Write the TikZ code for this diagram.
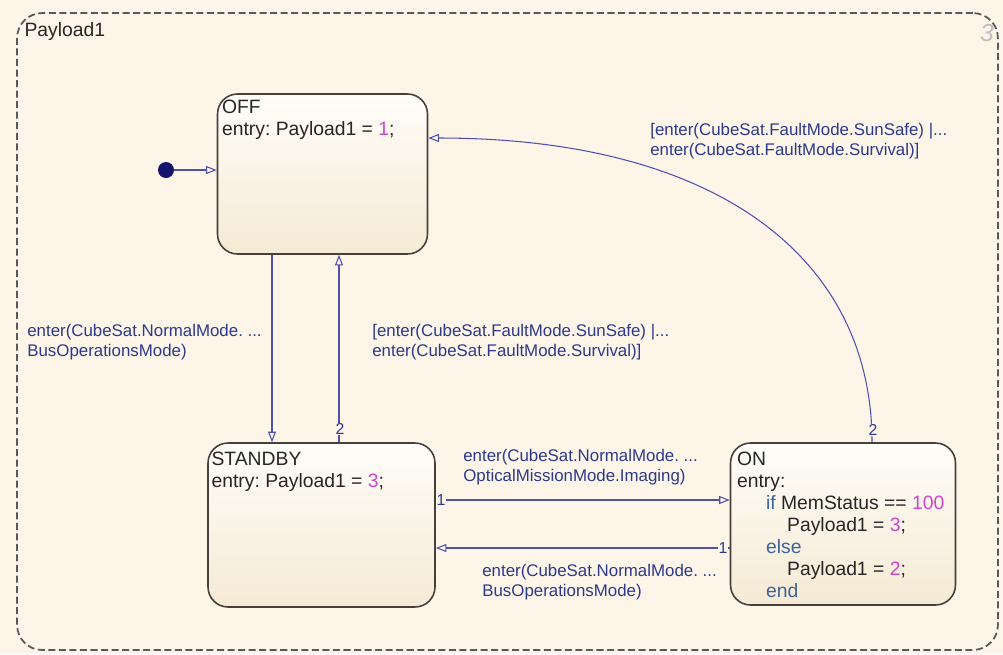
\documentclass[tikz,border=0pt]{standalone}
\usepackage{fontspec}
\setmainfont{Liberation Sans}
\usetikzlibrary{positioning,calc,arrows.meta}
\frenchspacing

\definecolor{chartbg}{RGB}{252,245,232}
\definecolor{stateedge}{RGB}{70,64,58}
\definecolor{statetop}{RGB}{255,253,249}
\definecolor{statebot}{RGB}{245,234,212}
\definecolor{transblue}{RGB}{80,80,175}
\definecolor{guardblue}{RGB}{45,58,140}
\definecolor{numpink}{RGB}{205,70,200}
\definecolor{kwblue}{RGB}{60,100,150}
\definecolor{inkdot}{RGB}{20,20,110}

\newcommand{\nm}[1]{\textcolor{numpink}{#1}}
\newcommand{\kw}[1]{\textcolor{kwblue}{#1}}

\begin{document}
\begin{tikzpicture}[
            x=0.02cm, y=-0.02cm,
            chart frame/.style={draw=black!65,line width=1pt,dash pattern=on 4pt off 2pt,rounded corners=0.5cm,inner sep=0pt},
            state node/.style={draw=stateedge,line width=0.9pt,rounded corners=0.4cm,top color=statetop,bottom color=statebot,inner sep=0pt},
            state text/.style={anchor=north west,inner sep=0pt,align=left,text=black!85,font=\fontsize{11}{12.6}\selectfont},
            guard/.style={anchor=north west,inner sep=0pt,align=left,text=guardblue,font=\fontsize{9.6}{11.4}\selectfont},
            port/.style={inner sep=0.5pt,fill=chartbg,text=guardblue,font=\fontsize{9}{10}\selectfont},
            trans/.style={draw=transblue,line width=0.6pt,-{Triangle[open,length=6pt,width=4.5pt]}},
        ]
            \fill[chartbg] (0,0) rectangle (1003,654);
            \useasboundingbox (0,0) rectangle (1003,654);

            \node[chart frame, minimum width=19.62cm, minimum height=12.74cm] (payload) at (507.5,331.5) {};
            \node[state text, anchor=north west] (payloadtxt) at ($(payload.north west)+(8,10)$) {Payload1};
            \node[text=black!25, font=\fontsize{14}{14}\selectfont\itshape] (chartnum) at (987,33) {3};

            % states
            \node[state node, minimum width=4.2cm, minimum height=3.2cm] (off) at (322.5,174) {};
            \node[state node, minimum width=4.54cm, minimum height=3.28cm] (standby) at (321.5,525) {};
            \node[state node, minimum width=4.5cm, minimum height=3.24cm] (on) at (843,524) {};

            \node[state text] (offtxt) at ($(off.north west)+(5,6)$) {OFF\\entry: Payload1 = \nm{1};};
            \node[state text] (standbytxt) at ($(standby.north west)+(4,9)$) {STANDBY\\entry: Payload1 = \nm{3};};
            \node[state text] (ontxt) at ($(on.north west)+(7,9)$) {ON\\entry:\\
                \hspace*{16.5pt}\kw{if} MemStatus == \nm{100}\\
                \hspace*{28.5pt}Payload1 = \nm{3};\\
                \hspace*{16.5pt}\kw{else}\\
                \hspace*{28.5pt}Payload1 = \nm{2};\\
                \hspace*{16.5pt}\kw{end}};

            % default transition
            \node[circle, fill=inkdot, minimum size=0.32cm, inner sep=0pt] (init) at (166,170) {};
            \draw[trans] (init) -- (init -| off.west);

            % transitions
            \draw[trans] (off.south -| 272,0) -- (standby.north -| 272,0);
            \draw[trans] (standby.north -| 339,0) -- (off.south -| 339,0);
            \draw[trans] (standby.east |- 0,500) -- (on.west |- 0,500);
            \draw[trans] (on.west |- 0,548) -- (standby.east |- 0,548);
            \draw[trans] (on.north -| 872,0) .. controls (872,260) and (720,138) .. (off.east |- 0,138);

            % execution order
            \node[port] (p1) at (340,429) {2};
            \node[port] (p2) at (873,430) {2};
            \node[port] (p3) at (441,500) {1};
            \node[port] (p4) at (723,548) {1};

            % guards
            \node[guard] (g1) at (27,324) {enter(CubeSat.NormalMode. ...\\BusOperationsMode)};
            \node[guard] (g2) at (372,324) {[enter(CubeSat.FaultMode.SunSafe) |...\\enter(CubeSat.FaultMode.Survival)]};
            \node[guard] (g3) at (650,123) {[enter(CubeSat.FaultMode.SunSafe) |...\\enter(CubeSat.FaultMode.Survival)]};
            \node[guard] (g4) at (463,449) {enter(CubeSat.NormalMode. ...\\OpticalMissionMode.Imaging)};
            \node[guard] (g5) at (482,564) {enter(CubeSat.NormalMode. ...\\BusOperationsMode)};
        \end{tikzpicture}
\end{document}
